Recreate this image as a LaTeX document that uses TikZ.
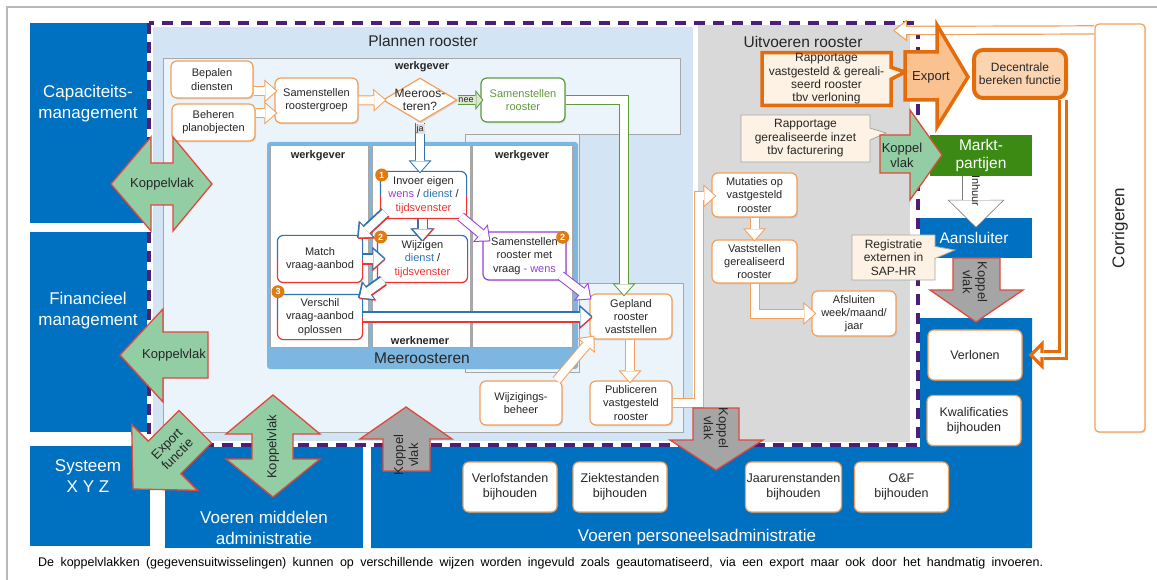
\documentclass[tikz,border=0pt]{standalone}
\usepackage{fontspec}
\setmainfont{Liberation Sans}
\usepackage{graphicx}
\usetikzlibrary{arrows.meta, positioning, calc, shadows, shapes.geometric, shapes.callouts}

\definecolor{sapblue}{HTML}{0070C0}
\definecolor{planfill}{HTML}{D3E5F4}
\definecolor{planlight}{HTML}{EBF3FB}
\definecolor{meerfill}{HTML}{7DB6E1}
\definecolor{uitvfill}{HTML}{D9D9D9}
\definecolor{framegrey}{HTML}{A6A6A6}
\definecolor{dashpurple}{HTML}{4B1E78}
\definecolor{boxorange}{HTML}{F2A05A}
\definecolor{deeporange}{HTML}{E46C0A}
\definecolor{exportfill}{HTML}{FAC191}
\definecolor{decfill}{HTML}{FCD4B0}
\definecolor{notefill}{HTML}{FDF2E3}
\definecolor{kvgreen}{HTML}{93CDA4}
\definecolor{kvred}{HTML}{E0483C}
\definecolor{kvgrey}{HTML}{A5A5A5}
\definecolor{marktgreen}{HTML}{3C8A14}
\definecolor{roostergreen}{HTML}{5E9A3C}
\definecolor{neefill}{HTML}{DDE6D2}
\definecolor{wpurple}{HTML}{9B3FD8}
\definecolor{wblue}{HTML}{2E74B5}
\definecolor{wred}{HTML}{EE3330}
\definecolor{txt}{HTML}{262626}
\definecolor{numorange}{HTML}{E07B12}
\definecolor{inhuurgrey}{HTML}{7F7F7F}

% hollow block arrow: outline colour, inner fill, size style, path
\newcommand{\hollow}[4]{%
  \draw[#1, #3] #4;
  \draw[#2, #3 in] #4;}
% same, outline blue on one side and red on the other
\newcommand{\twotone}[4]{%
  \draw[wred, #3, transform canvas={shift={#2}}] #4;
  \draw[wblue, #3, transform canvas={shift={#1}}] #4;
  \draw[white, #3 in] #4;}

\tikzset{
  f9/.style={font=\fontsize{9}{10}\selectfont},
  f11/.style={font=\fontsize{11}{13.2}\selectfont},
  f12/.style={font=\fontsize{12}{13.4}\selectfont},
  f12b/.style={font=\fontsize{12.5}{15}\selectfont},
  f13/.style={font=\fontsize{13}{15}\selectfont},
  f15/.style={font=\fontsize{15.5}{18}\selectfont},
  f17/.style={font=\fontsize{17}{21}\selectfont},
  colhead/.style={font=\fontsize{11}{13}\selectfont\bfseries, text=txt},
  area/.style={fill=sapblue},
  areatext/.style={text=white, align=center, f17},
  shade/.style={drop shadow={opacity=0.22, shadow xshift=1.2pt, shadow yshift=-1.4pt}},
  task/.style={draw=boxorange, line width=1.2pt, rounded corners=6pt, fill=white,
    text=txt, align=center, inner sep=1pt, f11, shade},
  bigtask/.style={task, f12b, minimum width=94, minimum height=50},
  note/.style={rectangle callout, fill=notefill, draw=framegrey, line width=0.8pt,
    text=txt, align=center, inner sep=1pt, f12, callout pointer width=12pt},
  kv/.style={fill=kvgreen, draw=kvred, line width=1.3pt, line join=miter},
  kvg/.style={kv, fill=kvgrey},
  kvtext/.style={f13, text=txt, align=center},
  num/.style={circle, fill=numorange, text=white, inner sep=0pt, minimum size=13pt,
    font=\fontsize{9}{9}\selectfont\bfseries},
  % arrow sizes, outer and inner pass
  flow/.style={line width=10pt, line join=miter,
    -{Triangle[length=13pt, width=23pt, line width=0pt]}},
  flow in/.style={line width=8pt, line join=miter, shorten >=1.5pt,
    -{Triangle[length=10.5pt, width=18.6pt, line width=0pt]}},
  nub/.style={line width=10pt, line join=miter,
    -{Triangle[length=8pt, width=20pt, line width=0pt]}},
  nub in/.style={line width=8pt, line join=miter, shorten >=1.3pt,
    -{Triangle[length=5.7pt, width=14.3pt, line width=0pt]}},
  heavy/.style={line width=10pt, line join=miter,
    -{Triangle[length=15pt, width=30pt, line width=0pt]}},
  heavy in/.style={line width=3.4pt, line join=miter, shorten >=4.7pt,
    -{Triangle[length=7pt, width=14pt, line width=0pt]}},
  band/.style={line width=9.4pt, line join=miter,
    -{Triangle[length=14pt, width=22pt, line width=0pt]}},
  band in/.style={line width=7pt, line join=miter, shorten >=1.9pt,
    -{Triangle[length=10.9pt, width=17pt, line width=0pt]}},
  wide/.style={line width=28.5pt, line join=miter,
    -{Triangle[length=28pt, width=57pt, line width=0pt]}},
  wide in/.style={line width=27pt, line join=miter, shorten >=1.1pt,
    -{Triangle[length=26.2pt, width=53.3pt, line width=0pt]}},
}

\begin{document}
\begin{tikzpicture}[x=1pt, y=-1pt]
  \useasboundingbox (0,0) rectangle (1157,580);
  \fill[white] (0,0) rectangle (1157,580);
  \draw[framegrey!80, line width=1.5pt] (7,580) -- (7,7) -- (1157,7);

  % business areas
  \fill[area] (30,23) rectangle (147,223);
  \node[areatext] (cap) at (88,104) {Capaciteits-\\management};
  \fill[area] (30,232) rectangle (147,432);
  \node[areatext] (fin) at (88,311) {Financieel\\management};
  \fill[area] (30,446) rectangle (150,546);
  \node[areatext] (xyz) at (88,476) {Systeem\\X Y Z};
  \fill[area] (165,444) rectangle (363,548);
  \node[areatext] (mid) at (264,528) {Voeren middelen\\administratie};
  \fill[area] (371,444) -- (916,444) -- (916,318) -- (1032,318) -- (1032,548) -- (371,548) -- cycle;
  \node[areatext] (pers) at (697,537) {Voeren personeelsadministratie};
  \node[area, minimum width=116, minimum height=40, inner sep=0pt, f15, text=white] (aans) at (974,238) {Aansluiter};
  \node[fill=marktgreen, minimum width=102, minimum height=41, inner sep=0pt, f15, text=white, align=center] (markt) at (981,155.5) {Markt-\\partijen};

  % plannen / uitvoeren panels
  \fill[planfill] (153,27) rectangle (693,441);
  \filldraw[fill=planlight, draw=framegrey, line width=0.8pt]
    (163,58) -- (680,58) -- (680,134) -- (466,134) -- (466,283) -- (683,283)
    -- (683,432) -- (163,432) -- cycle;
  \filldraw[fill=planlight, draw=framegrey, line width=0.8pt] (465,134) rectangle (579,372);
  \node[f15, text=txt] (plan) at (423,41) {Plannen rooster};
  \node[colhead] (wg0) at (422,67) {werkgever};
  \fill[uitvfill] (698,25) rectangle (910,442);
  \node[f15, text=txt] (uitv) at (803,42) {Uitvoeren rooster};

  \draw[white, line width=4pt] (149,23.5) rectangle (917.5,445);
  \draw[dashpurple, line width=4pt, dash pattern=on 11pt off 8pt] (149,23.5) rectangle (917.5,445);

  \node[task, rounded corners=4pt, minimum width=50, minimum height=408] (cor) at (1120,228) {};
  \node[f17, text=txt, rotate=90] (cortext) at (cor) {Corrigeren};

  % meeroosteren block
  \fill[meerfill, rounded corners=3pt] (267,142) rectangle (578,369);
  \foreach \x/\y in {270/368, 372/470, 472/572}
    \filldraw[fill=white, draw=framegrey, line width=0.8pt] (\x,145) rectangle (\y,347);
  \node[colhead] (wg1) at (318,156) {werkgever};
  \node[colhead] (wn) at (420,341) {werknemer};
  \node[colhead] (wg2) at (522,156) {werkgever};
  \node[f15, text=txt] (meer) at (422,358) {Meeroosteren};

  % process steps
  \node[task, minimum width=82, minimum height=37] (bep) at (212,79.5) {Bepalen\\diensten};
  \node[task, minimum width=83, minimum height=37] (beh) at (213.5,122.5) {Beheren\\planobjecten};
  \node[task, minimum width=83, minimum height=45] (srg) at (316.5,100.5) {Samenstellen\\roostergroep};
  \node[diamond, draw=boxorange, line width=1.2pt, fill=white, minimum width=74,
    minimum height=44, inner sep=0pt, shade] (mr) at (420,100) {};
  \node[f12, text=txt, align=center] (mrtext) at (mr) {Meeroos-\\teren?};
  \node[task, draw=roostergreen, text=roostergreen, minimum width=84, minimum height=44] (sr) at (523,100) {Samenstellen\\rooster};
  \node[task, draw=none, minimum width=85, minimum height=46] (inv) at (423.5,195)
    {Invoer eigen\\\textcolor{wpurple}{wens} / \textcolor{wblue}{dienst} /\\\textcolor{wred}{tijdsvenster}};
  \node[task, draw=none, minimum width=84, minimum height=46] (mat) at (320,259) {Match\\vraag-aanbod};
  \node[task, draw=none, minimum width=89, minimum height=46] (wij) at (422.5,259)
    {Wijzigen\\\textcolor{wblue}{dienst} /\\\textcolor{wred}{tijdsvenster}};
  \node[task, draw=none, minimum width=84, minimum height=44] (ver) at (320,317) {Verschil\\vraag-aanbod\\oplossen};
  \foreach \nd in {inv,mat,wij,ver}{
    \draw[wblue, line width=1.2pt, rounded corners=6pt] (\nd.west) |- (\nd.north east) -- (\nd.east);
    \draw[wred, line width=1.2pt, rounded corners=6pt] (\nd.west) |- (\nd.south east) -- (\nd.east);
  }
  \node[task, draw=wpurple, minimum width=83, minimum height=48] (smv) at (524.5,256)
    {Samenstellen\\rooster met\\vraag \textcolor{wpurple}{- wens}};
  \node[task, minimum width=82, minimum height=45] (gep) at (631,316.5) {Gepland\\rooster\\vaststellen};
  \node[task, minimum width=82, minimum height=44] (pub) at (631,403) {Publiceren\\vastgesteld\\rooster};
  \node[task, minimum width=82, minimum height=44] (wb) at (521,403) {Wijzigings-\\beheer};
  \node[task, minimum width=85, minimum height=44] (mut) at (754.5,195) {Mutaties op\\vastgesteld\\rooster};
  \node[task, minimum width=85, minimum height=43] (vgr) at (754.5,261.5) {Vaststellen\\gerealiseerd\\rooster};
  \node[task, minimum width=84, minimum height=45] (afs) at (854,313.5) {Afsluiten\\week/maand/\\jaar};
  \node[bigtask] (verl) at (975,355) {Verlonen};
  \node[bigtask] (kwal) at (974,420.5) {Kwalificaties\\bijhouden};
  \node[bigtask] (verlof) at (510,487) {Verlofstanden\\bijhouden};
  \node[bigtask] (ziek) at (620,487) {Ziektestanden\\bijhouden};
  \node[bigtask] (jaar) at (793.5,487) {Jaarurenstanden\\bijhouden};
  \node[bigtask] (oenf) at (901.5,487) {O\&F\\bijhouden};

  % flows
  \hollow{boxorange}{white}{flow}{($(bep.east)+(0,11.5)$) -- ($(srg.west |- bep.east)+(3,11.5)$)}
  \hollow{boxorange}{white}{flow}{($(beh.east)+(0,-9.5)$) -- ($(srg.west |- beh.east)+(3,-9.5)$)}
  \hollow{boxorange}{white}{flow}{(srg.east) -- ($(mr.west)+(4,0)$)}
  \hollow{roostergreen}{neefill}{nub}{(mr.east) -- ($(sr.west)+(3,0)$)}
  \node[f9, text=txt] (nee) at (466,100.5) {nee};
  \hollow{wblue}{white}{flow}{(mr.south) -- ($(mr.south |- inv.north)+(0,2)$)}
  \node[f9, fill=gray!25, inner sep=1pt, text=txt] (ja) at (420,129) {ja};
  \twotone{(-0.6,-0.6)}{(0.6,0.6)}{flow}{($(inv.south west)+(5,-6)$) -- ($(mat.north east)+(-5,3)$)}
  \twotone{(-0.8,0)}{(0.8,0)}{flow}{(inv.south -| wij.north) -- ($(wij.north)+(0,6)$)}
  \twotone{(0,-0.8)}{(0,0.8)}{flow}{(mat.east) -- ($(wij.west)+(8,0)$)}
  \twotone{(-0.6,-0.6)}{(0.6,0.6)}{flow}{($(wij.south west)+(6,-2)$) -- ($(ver.north east)+(-4,4)$)}
  \twotone{(0,-0.8)}{(0,0.8)}{flow}{(ver.east) -- ($(gep.west |- ver.east)+(3,0)$)}
  \hollow{wpurple}{white}{flow}{($(inv.south east)+(-6,-2)$) -- ($(smv.north west)+(8,10)$)}
  \hollow{wpurple}{white}{flow}{($(smv.south east)+(-6,-5)$) -- ($(gep.north west)+(2,6)$)}
  \hollow{roostergreen}{white}{flow}{(sr.east) -| ($(gep.north)+(-7,3)$)}
  \hollow{boxorange}{white}{flow}{($(gep.south)+(-1,0)$) -- ($(pub.north)+(-1,3)$)}
  \hollow{boxorange}{white}{flow}{($(wb.north east)+(-6,0)$) -- ($(gep.south west)+(5,-4)$)}
  \hollow{boxorange}{white}{flow}{(pub.east) -- ++(26,0) |- ($(mut.west)+(5,1)$)}
  \hollow{boxorange}{white}{flow}{(mut.south) -- ($(vgr.north)+(0,2)$)}
  \hollow{boxorange}{white}{flow}{(vgr.south) |- ($(afs.west)+(5,0)$)}

  % export to payroll, corrections back
  \coordinate (fbtip) at (893,30.5);
  \hollow{boxorange}{white}{band}{([yshift=-6.5pt]cor.north west) -- (fbtip)}
  \node[note, draw=deeporange, line width=3.5pt, minimum width=129, minimum height=52,
    callout absolute pointer={(905,72)}, font=\fontsize{12}{13.3}\selectfont] (rv) at (826.5,79)
    {Rapportage\\vastgesteld \& gereali-\\seerd rooster\\tbv verloning};
  \node[note, minimum width=129, minimum height=47, callout absolute pointer={(886,133)}] (rf)
    at (805.5,138.5) {Rapportage\\gerealiseerde inzet\\tbv facturering};
  \node[note, minimum width=83, minimum height=45, callout absolute pointer={(955,250)}] (reg)
    at (893.5,257.5) {Registratie\\externen in\\SAP-HR};
  \filldraw[fill=exportfill, draw=deeporange, line width=3.5pt, line join=miter]
    (905,52) -- (937,52) -- (937,25) -- (968,77) -- (937,127) -- (937,100) -- (905,100) -- cycle;
  \node[f13, text=txt] (exp) at (931,77) {Export};
  \node[task, draw=deeporange, fill=decfill, line width=4pt, rounded corners=9pt,
    minimum width=92, minimum height=48, f12] (dec) at (1020,74) {Decentrale\\bereken functie};
  \hollow{deeporange}{white}{heavy}{([xshift=-5pt]dec.south east) |- ([xshift=6pt]verl.east)}
  \hollow{inhuurgrey}{white}{wide}{($(markt.south)+(-5,0)$) -- ($(aans.north)+(2,10)$)}
  \node[f11, text=txt, rotate=-90] (inh) at (976,191) {Inhuur};

  % koppelvlakken
  \filldraw[kv] (111,184) -- (151,137) -- (151,163) -- (173,163) -- (173,137) -- (212,184)
    -- (173,231) -- (173,205) -- (151,205) -- (151,231) -- cycle;
  \node[kvtext] (kv1) at (162,184) {Koppelvlak};
  \filldraw[kv] (120,355) -- (163,309) -- (163,332) -- (208,332) -- (208,378) -- (163,378)
    -- (163,402) -- cycle;
  \node[kvtext] (kv2) at (174,355) {Koppelvlak};
  \filldraw[kv] (133,489) -- (197.4,490.3) -- (180.8,473.7) -- (211.5,443) -- (179,410.5)
    -- (148.3,441.2) -- (131.7,424.6) -- cycle;
  \node[kvtext, rotate=45] (expf) at (172,449) {Export\\functie};
  \filldraw[kv] (273,395) -- (320,434) -- (293,434) -- (293,459) -- (320,459) -- (273,497)
    -- (226,459) -- (252,459) -- (252,434) -- (226,434) -- cycle;
  \node[kvtext, rotate=90] (kv3) at (273,447) {Koppelvlak};
  \filldraw[kvg] (406,407) -- (452,439) -- (430,439) -- (430,471) -- (383,471) -- (383,439)
    -- (360,439) -- cycle;
  \node[kvtext, rotate=90] (kv4) at (406,455) {Koppel\\vlak};
  \filldraw[kvg] (693,408) -- (739,408) -- (739,440) -- (763,440) -- (716,470) -- (670,440)
    -- (693,440) -- cycle;
  \node[kvtext, rotate=-90] (kv5) at (716,428) {Koppel\\vlak};
  \filldraw[kv] (880,135) -- (910,135) -- (910,110) -- (942,155) -- (910,200) -- (910,173)
    -- (880,173) -- cycle;
  \node[kvtext] (kv6) at (902,155) {Koppel\\vlak};
  \filldraw[kvg] (953,258) -- (1000,258) -- (1000,290) -- (1023,290) -- (976,322) -- (930,290)
    -- (953,290) -- cycle;
  \node[kvtext, rotate=-90] (kv7) at (975,282) {Koppel\\vlak};

  % step numbers
  \node[num] (n1) at (381.7,175) {1};
  \node[num] (n2) at (380.7,237) {2};
  \node[num] (n3) at (278,291.7) {3};
  \node[num] (n4) at (562.7,237.3) {2};

  \node[font=\fontsize{12.5}{14}\selectfont, text=black, anchor=west, inner sep=0pt] (caption) at (38,563)
    {\makebox[1005pt][s]{De koppelvlakken (gegevensuitwisselingen) kunnen op verschillende wijzen worden ingevuld zoals geautomatiseerd, via een export maar ook door het handmatig invoeren.}};
\end{tikzpicture}
\end{document}
